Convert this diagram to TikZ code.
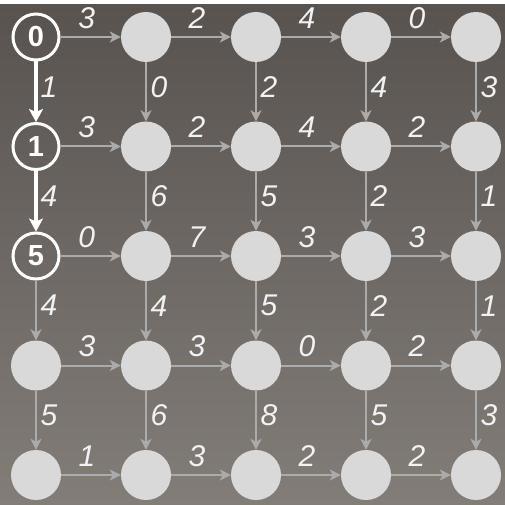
\documentclass[tikz,border=0pt]{standalone}
\usepackage{fontspec}
\setmainfont{Liberation Sans}
\usetikzlibrary{arrows.meta,positioning}
\definecolor{cellgray}{HTML}{D9D9D9}
\definecolor{linkgray}{HTML}{ABABAB}
\definecolor{wtwhite}{HTML}{F2F2F2}
\definecolor{bgtop}{HTML}{58534F}
\definecolor{bgbottom}{HTML}{827D77}
\newcommand\wtfont{\fontsize{30}{34}\selectfont\itshape}
\newcommand\cellfont{\fontsize{29}{33}\selectfont\bfseries}
\tikzset{
  cell/.style={circle,fill=cellgray,minimum size=50pt,inner sep=0pt},
  pathcell/.style={circle,draw=white,line width=3pt,minimum size=46pt,inner sep=0pt,text=white,font=\cellfont},
  link/.style={draw=linkgray,line width=2pt,-{Stealth[length=11pt,width=11pt,inset=3pt]}},
  pathlink/.style={draw=white,line width=4pt,-{Stealth[length=13pt,width=14pt,inset=3pt]}},
  hw/.style={midway,xshift=-4pt,yshift=19pt,text=wtwhite,inner sep=0pt,font=\wtfont},
  vw/.style={midway,xshift=13pt,yshift=5pt,text=wtwhite,inner sep=0pt,font=\wtfont}
}
\begin{document}
\begin{tikzpicture}[x=1pt,y=1pt]
% background
\fill[white] (0,0) rectangle (505,504);
\shade[top color=bgtop,bottom color=bgbottom] (0,0) rectangle (505,499);
\useasboundingbox (0,0) rectangle (505,504);
% grid of cells
\node[pathcell] (n00) at (36,467) {0};\node[cell] (n01) at (146,467) {};\node[cell] (n02) at (256,467) {};\node[cell] (n03) at (366,467) {};\node[cell] (n04) at (476,467) {};
\node[pathcell] (n10) at (36,357.5) {1};\node[cell] (n11) at (146,357.5) {};\node[cell] (n12) at (256,357.5) {};\node[cell] (n13) at (366,357.5) {};\node[cell] (n14) at (476,357.5) {};
\node[pathcell] (n20) at (36,248) {5};\node[cell] (n21) at (146,248) {};\node[cell] (n22) at (256,248) {};\node[cell] (n23) at (366,248) {};\node[cell] (n24) at (476,248) {};
\node[cell] (n30) at (36,138.5) {};\node[cell] (n31) at (146,138.5) {};\node[cell] (n32) at (256,138.5) {};\node[cell] (n33) at (366,138.5) {};\node[cell] (n34) at (476,138.5) {};
\node[cell] (n40) at (36,29) {};\node[cell] (n41) at (146,29) {};\node[cell] (n42) at (256,29) {};\node[cell] (n43) at (366,29) {};\node[cell] (n44) at (476,29) {};
% horizontal links
\draw[link] (n00)--node[hw]{3}(n01);\draw[link] (n01)--node[hw]{2}(n02);\draw[link] (n02)--node[hw]{4}(n03);\draw[link] (n03)--node[hw]{0}(n04);
\draw[link] (n10)--node[hw]{3}(n11);\draw[link] (n11)--node[hw]{2}(n12);\draw[link] (n12)--node[hw]{4}(n13);\draw[link] (n13)--node[hw]{2}(n14);
\draw[link] (n20)--node[hw]{0}(n21);\draw[link] (n21)--node[hw]{7}(n22);\draw[link] (n22)--node[hw]{3}(n23);\draw[link] (n23)--node[hw]{3}(n24);
\draw[link] (n30)--node[hw]{3}(n31);\draw[link] (n31)--node[hw]{3}(n32);\draw[link] (n32)--node[hw]{0}(n33);\draw[link] (n33)--node[hw]{2}(n34);
\draw[link] (n40)--node[hw]{1}(n41);\draw[link] (n41)--node[hw]{3}(n42);\draw[link] (n42)--node[hw]{2}(n43);\draw[link] (n43)--node[hw]{2}(n44);
% vertical links
\draw[pathlink] (n00)--node[vw]{1}(n10);\draw[link] (n01)--node[vw]{0}(n11);\draw[link] (n02)--node[vw]{2}(n12);\draw[link] (n03)--node[vw]{4}(n13);\draw[link] (n04)--node[vw]{3}(n14);
\draw[pathlink] (n10)--node[vw]{4}(n20);\draw[link] (n11)--node[vw]{6}(n21);\draw[link] (n12)--node[vw]{5}(n22);\draw[link] (n13)--node[vw]{2}(n23);\draw[link] (n14)--node[vw]{1}(n24);
\draw[link] (n20)--node[vw]{4}(n30);\draw[link] (n21)--node[vw]{4}(n31);\draw[link] (n22)--node[vw]{5}(n32);\draw[link] (n23)--node[vw]{2}(n33);\draw[link] (n24)--node[vw]{1}(n34);
\draw[link] (n30)--node[vw]{5}(n40);\draw[link] (n31)--node[vw]{6}(n41);\draw[link] (n32)--node[vw]{8}(n42);\draw[link] (n33)--node[vw]{5}(n43);\draw[link] (n34)--node[vw]{3}(n44);
\end{tikzpicture}
\end{document}
